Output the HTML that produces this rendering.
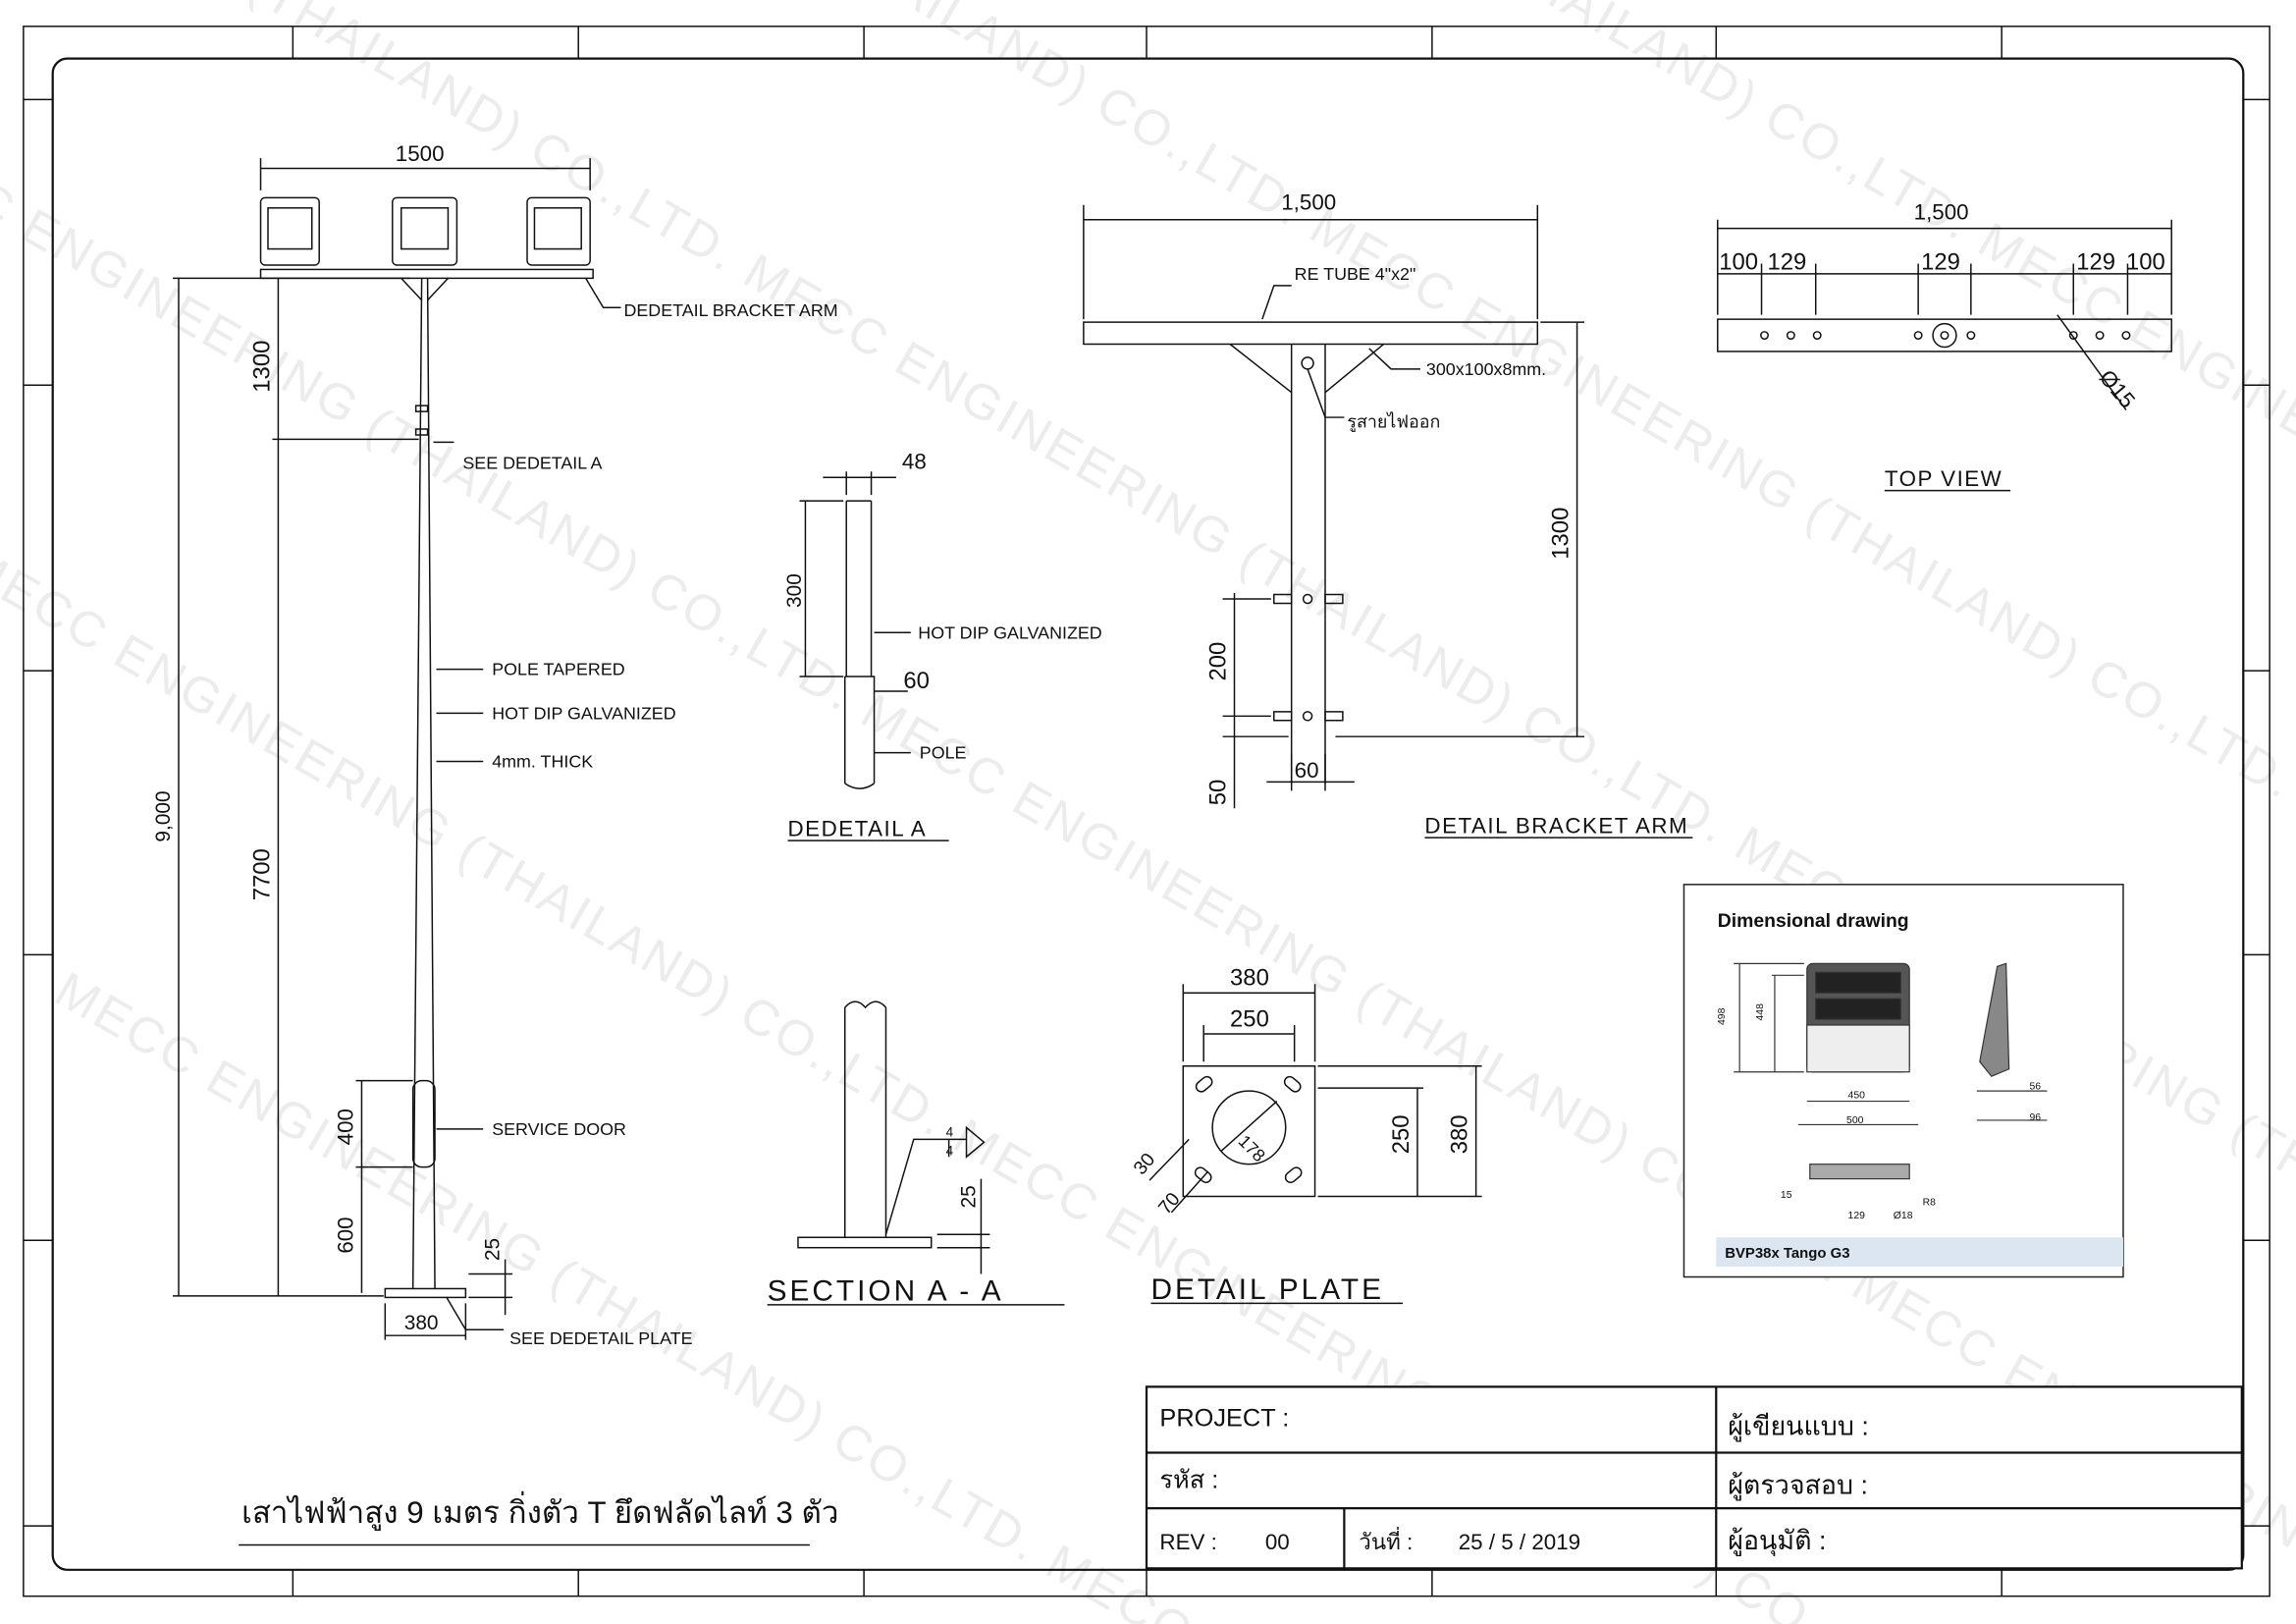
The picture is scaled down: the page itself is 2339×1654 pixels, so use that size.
<!DOCTYPE html>
<html><head><meta charset="utf-8"><style>
html,body{margin:0;padding:0;background:#fff;width:2339px;height:1654px;overflow:hidden}
svg{display:block}
text{font-family:"Liberation Sans","Noto Sans CJK SC",sans-serif;fill:#111}
.l{stroke:#111;stroke-width:1;fill:none}
.t{stroke:#111;stroke-width:1.5;fill:none}
.w{font-size:34px;fill:#ececec;font-family:"Liberation Sans",sans-serif;letter-spacing:2px}
</style></head><body>
<svg width="2339" height="1654" viewBox="0 0 1568 1109" preserveAspectRatio="none" xmlns="http://www.w3.org/2000/svg">
<rect width="1568" height="1109" fill="#fff"/>
<g transform="rotate(30 784 554)">
<text class="w" x="300" y="-60">MECC ENGINEERING (THAILAND) CO.,LTD.  MECC ENGINEERING (THAILAND) CO.,LTD.</text>
<text class="w" x="-100" y="160">MECC ENGINEERING (THAILAND) CO.,LTD.  MECC ENGINEERING (THAILAND) CO.,LTD.  MECC ENGINEERING</text>
<text class="w" x="-300" y="380">ENGINEERING (THAILAND) CO.,LTD.  MECC ENGINEERING (THAILAND) CO.,LTD.  MECC ENGINEERING (THAILAND)</text>
<text class="w" x="-200" y="600">MECC ENGINEERING (THAILAND) CO.,LTD.  MECC ENGINEERING (THAILAND) CO.,LTD.  MECC ENGINEERING</text>
<text class="w" x="0" y="820">MECC ENGINEERING (THAILAND) CO.,LTD.  MECC ENGINEERING (THAILAND) CO.,LTD.</text>
<text class="w" x="200" y="1040">MECC ENGINEERING (THAILAND) CO.,LTD.  MECC ENGINEERING</text>
</g>
<rect x="16" y="18" width="1534" height="1072" class="l"/>
<rect x="36" y="40" width="1496" height="1032" rx="10" class="t"/>
<g class="l">
<path d="M200 18V40M395 18V40M590 18V40M783 18V40M978 18V40M1172 18V40M1367 18V40"/>
<path d="M200 1072V1090M395 1072V1090M590 1072V1090M783 1072V1090M978 1072V1090M1172 1072V1090M1367 1072V1090"/>
<path d="M16 68H36M16 263H36M16 458H36M16 652H36M16 847H36M16 1042H36"/>
<path d="M1532 68H1550M1532 263H1550M1532 458H1550M1532 652H1550M1532 847H1550M1532 1042H1550"/>
</g>
<rect x="783" y="947" width="748" height="124" fill="#fff"/>
<g class="t"><rect x="783" y="947" width="748" height="124"/><path d="M783 992H1531M783 1030H1531M1172 947V1071M918 1030V1071"/></g>
<text x="792" y="974" font-size="17">PROJECT  :</text>
<text x="792" y="1016" font-size="17">รหัส  :</text>
<text x="792" y="1058" font-size="15">REV :</text><text x="864" y="1058" font-size="15">00</text>
<text x="928" y="1058" font-size="15">วันที่  :</text><text x="996" y="1058" font-size="15">25 / 5 / 2019</text>
<text x="1180" y="980" font-size="18">ผู้เขียนแบบ  :</text>
<text x="1180" y="1020" font-size="18">ผู้ตรวจสอบ  :</text>
<text x="1180" y="1058" font-size="18">ผู้อนุมัติ  :</text>
<text x="165" y="1040" font-size="21">เสาไฟฟ้าสูง 9 เมตร กิ่งตัว T ยึดฟลัดไลท์ 3 ตัว</text>
<path d="M163 1055H553" class="l"/>

<g class="l">
<path d="M288 190L282 880M292 190L297 880"/>
<rect x="263" y="880" width="55" height="6"/>
<rect x="178" y="184" width="227" height="6"/>
<path d="M274 190L288 205M306 190L292 205"/>
<rect x="282" y="738" width="15" height="59" rx="6"/>
<rect x="178" y="135" width="40" height="46" rx="3"/><rect x="183" y="142" width="30" height="28"/>
<rect x="268" y="135" width="44" height="46" rx="3"/><rect x="274" y="142" width="32" height="28"/>
<rect x="360" y="135" width="43" height="46" rx="3"/><rect x="365" y="142" width="32" height="28"/>
<path d="M178 108V130M403 108V130M178 115H403"/>
<path d="M118 190H280M122 190V885M118 885H262M186 300H286M190 190V885"/>
<path d="M243 738H282M247 738V883M243 797H282"/>
<path d="M345 860V898M320 870H350M320 886H350"/>
<path d="M263 890V915M318 890V915M263 912H318"/>
<path d="M400 190L412 210H424M296 302H310M298 457H330M298 487H330M298 520H330M298 771H330M305 886L318 908H344"/>
<path d="M284 277h8v4h-8zM284 293h8v4h-8z"/>
</g>
<text x="270" y="110" font-size="15">1500</text>
<text x="116" y="575" font-size="14" transform="rotate(-90 116 575)">9,000</text>
<text x="184" y="268" font-size="16" transform="rotate(-90 184 268)">1300</text>
<text x="184" y="615" font-size="16" transform="rotate(-90 184 615)">7700</text>
<text x="241" y="782" font-size="15" transform="rotate(-90 241 782)">400</text>
<text x="241" y="856" font-size="15" transform="rotate(-90 241 856)">600</text>
<text x="341" y="861" font-size="14" transform="rotate(-90 341 861)">25</text>
<text x="276" y="908" font-size="14">380</text>
<g font-size="12"><text x="426" y="216">DEDETAIL  BRACKET ARM</text><text x="316" y="320">SEE DEDETAIL  A</text>
<text x="336" y="461">POLE  TAPERED</text><text x="336" y="491">HOT DIP GALVANIZED</text><text x="336" y="524">4mm. THICK</text>
<text x="336" y="775">SERVICE DOOR</text><text x="348" y="918">SEE DEDETAIL PLATE</text></g>

<g class="l">
<path d="M578 342V462M595 342V462M578 342H595M577 462H597V535M577 462V535M577 535Q587 542 597 535"/>
<path d="M578 322V338M595 322V338M562 326H612M546 342H576M546 462H576M550 342V462M597 432H622M597 472H620M597 514H622"/>
</g>
<text x="616" y="320" font-size="15">48</text>
<text x="547" y="415" font-size="14" transform="rotate(-90 547 415)">300</text>
<text x="617" y="470" font-size="16">60</text>
<g font-size="12"><text x="627" y="436">HOT DIP GALVANIZED</text><text x="628" y="518">POLE</text></g>
<text x="538" y="571" font-size="15" letter-spacing="1">DEDETAIL   A</text><path d="M538 574H648" class="l"/>

<g class="l">
<rect x="740" y="220" width="310" height="15"/>
<path d="M882 235V535M905 235V535M840 235L882 268M945 235L905 268"/>
<circle cx="893" cy="248" r="4"/><circle cx="893" cy="409" r="3"/><circle cx="893" cy="489" r="3"/>
<path d="M870 406h12v6h-12zM905 406h12v6h-12zM870 486h12v6h-12zM905 486h12v6h-12z"/>
<path d="M740 140V218M1050 140V218M740 150H1050"/>
<path d="M1052 220H1082M1077 220V503M912 503H1082"/>
<path d="M835 409H868M835 489H868M835 503H880M843 405V552"/>
<path d="M882 515V540M905 515V540M865 534H925"/>
<path d="M862 218L870 195H882M935 238L950 252H970M893 252L905 285H918"/>
</g>
<text x="875" y="143" font-size="15">1,500</text>
<text x="884" y="191" font-size="12">RE TUBE 4"x2"</text>
<text x="974" y="256" font-size="12">300x100x8mm.</text>
<text x="920" y="292" font-size="12">รูสายไฟออก</text>
<text x="1071" y="382" font-size="16" transform="rotate(-90 1071 382)">1300</text>
<text x="837" y="465" font-size="16" transform="rotate(-90 837 465)">200</text>
<text x="837" y="550" font-size="16" transform="rotate(-90 837 550)">50</text>
<text x="884" y="531" font-size="15">60</text>
<text x="973" y="569" font-size="15" letter-spacing="1">DETAIL  BRACKET  ARM</text><path d="M973 572H1156" class="l"/>

<g class="l">
<rect x="1173" y="218" width="310" height="22"/>
<path d="M1173 150V215M1483 150V215M1173 156H1483M1203 180V215M1240 180V215M1310 180V215M1346 180V215M1416 180V215M1453 180V215M1173 187H1483"/>
<circle cx="1205" cy="229" r="2.5"/><circle cx="1223" cy="229" r="2.5"/><circle cx="1241" cy="229" r="2.5"/>
<circle cx="1310" cy="229" r="2.5"/><circle cx="1346" cy="229" r="2.5"/><circle cx="1328" cy="229" r="8"/><circle cx="1328" cy="229" r="2.5"/>
<circle cx="1416" cy="229" r="2.5"/><circle cx="1434" cy="229" r="2.5"/><circle cx="1452" cy="229" r="2.5"/>
<path d="M1405 215L1452 280"/>
</g>
<text x="1307" y="150" font-size="15">1,500</text>
<g font-size="16"><text x="1174" y="184">100</text><text x="1207" y="184">129</text><text x="1312" y="184">129</text><text x="1418" y="184">129</text><text x="1452" y="184">100</text></g>
<text x="1433" y="258" font-size="15" transform="rotate(50 1433 258)">Ø15</text>
<text x="1287" y="332" font-size="15" letter-spacing="1">TOP  VIEW</text><path d="M1287 335H1373" class="l"/>

<g class="l">
<path d="M577 688V845M605 688V845M577 688Q584 680 591 688Q598 680 605 688"/>
<rect x="545" y="845" width="91" height="7"/>
<path d="M605 843L624 778H660M660 770V790L672 780Z M648 778V790"/>
<path d="M640 843H676M640 852H676M670 805V870"/>
</g>
<text x="646" y="776" font-size="9">4</text><text x="646" y="789" font-size="9">4</text>
<text x="666" y="825" font-size="14" transform="rotate(-90 666 825)">25</text>
<text x="524" y="888" font-size="20" letter-spacing="2">SECTION   A - A</text><path d="M524 891H727" class="l"/>

<g class="l">
<rect x="808" y="728" width="90" height="89"/>
<circle cx="853" cy="770" r="25"/>
<rect x="816" y="737" width="12" height="7" rx="3.5" transform="rotate(-40 822 740)"/>
<rect x="877" y="737" width="12" height="7" rx="3.5" transform="rotate(40 883 740)"/>
<rect x="816" y="799" width="12" height="7" rx="3.5" transform="rotate(40 822 802)"/>
<rect x="877" y="799" width="12" height="7" rx="3.5" transform="rotate(-40 883 802)"/>
<path d="M808 672V725M898 672V725M808 678H898M822 700V725M884 700V725M822 706H884"/>
<path d="M900 743H972M900 817H1012M968 743V817M900 728H1012M1008 728V817"/>
<path d="M834 786L872 752M812 778L785 806M825 800L800 828"/>
</g>
<text x="840" y="673" font-size="16">380</text><text x="840" y="701" font-size="16">250</text>
<text x="962" y="788" font-size="16" transform="rotate(-90 962 788)">250</text>
<text x="1002" y="788" font-size="16" transform="rotate(-90 1002 788)">380</text>
<text x="845" y="780" font-size="12" transform="rotate(45 845 780)">178</text>
<text x="780" y="803" font-size="13" transform="rotate(-50 780 803)">30</text>
<text x="797" y="830" font-size="13" transform="rotate(-50 797 830)">70</text>
<text x="786" y="887" font-size="20" letter-spacing="2">DETAIL  PLATE</text><path d="M786 890H958" class="l"/>

<rect x="1150" y="604" width="300" height="268" fill="#fff" stroke="#222" stroke-width="1"/>
<rect x="1172" y="845" width="278" height="20" fill="#dce6f1"/>
<text x="1173" y="633" font-size="13" font-weight="bold" fill="#333">Dimensional drawing</text>
<text x="1178" y="859" font-size="10" font-weight="bold">BVP38x Tango G3</text>
<g stroke="#333" stroke-width="0.8" fill="none">
<rect x="1234" y="658" width="70" height="74" rx="4" fill="#555"/>
<rect x="1240" y="664" width="58" height="14" fill="#222"/><rect x="1240" y="682" width="58" height="14" fill="#222"/>
<rect x="1234" y="700" width="70" height="32" fill="#eee"/>
<path d="M1184 658H1232M1210 666H1232M1188 658V732M1212 666V732M1184 732H1232M1234 752H1304M1228 768H1310"/>
<path d="M1364 660L1370 658L1372 730L1360 735L1352 725Z" fill="#888"/>
<path d="M1350 745H1398M1350 765H1398"/>
<rect x="1236" y="795" width="68" height="10" fill="#aaa"/>
</g>
<g font-size="7" fill="#333"><text x="1178" y="700" transform="rotate(-90 1178 700)">498</text><text x="1204" y="697" transform="rotate(-90 1204 697)">448</text>
<text x="1262" y="750">450</text><text x="1261" y="767">500</text><text x="1386" y="744">56</text><text x="1386" y="765">96</text>
<text x="1216" y="818">15</text><text x="1262" y="832">129</text><text x="1293" y="832">Ø18</text><text x="1313" y="823">R8</text></g>
</svg>
</body></html>
